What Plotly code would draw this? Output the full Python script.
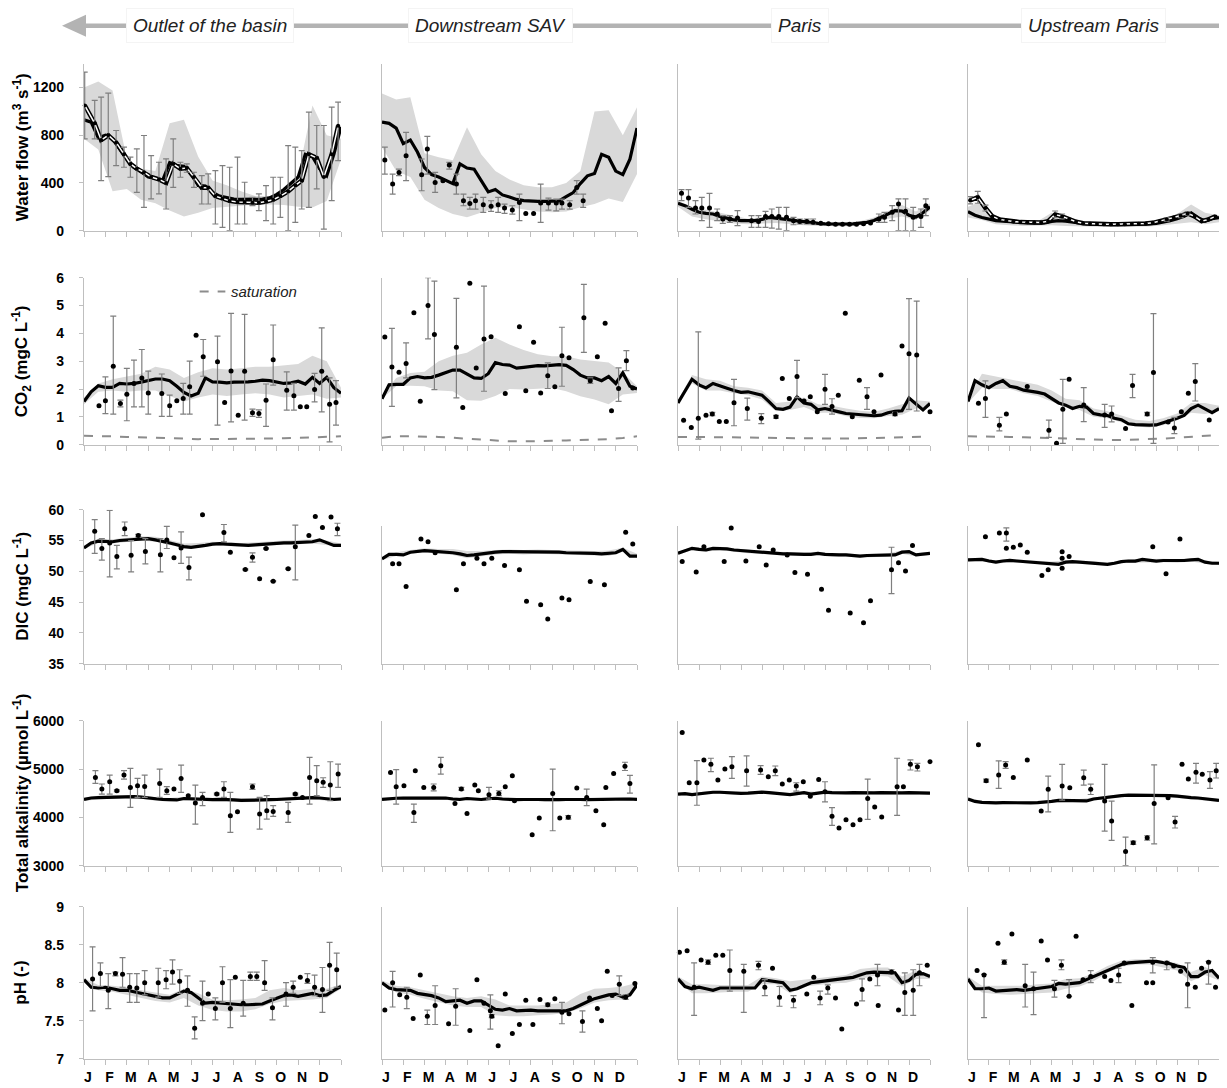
import plotly.graph_objects as go

# page placement: figure sits inside the body margin; measured window mapping is applied in px()/py()
W, H = 1211, 1088

# ---------------- shared axis data ----------------
X_LINE = list(range(1, 38))          # model time steps (10-day periods)
X_BAND = list(range(1, 38, 2))       # envelope sampling
X_TICKS = list(range(1, 38, 3))
MONTHS = ["J", "F", "M", "A", "M", "J", "J", "A", "S", "O", "N", "D"]
SITES = ["Outlet of the basin", "Downstream SAV", "Paris", "Upstream Paris"]
Y_TITLES = ["Water flow (m<sup>3</sup> s<sup>-1</sup>)",
            "CO<sub>2</sub> (mgC L<sup>-1</sup>)",
            "DIC (mgC L<sup>-1</sup>)",
            "Total alkalinity (µmol L<sup>-1</sup>)",
            "pH (-)"]
Y_RANGES = [[0, 1400], [0, 6], [35, 60], [3000, 6000], [7, 9]]
Y_TICKVALS = [[0, 400, 800, 1200], [0, 1, 2, 3, 4, 5, 6], [35, 40, 45, 50, 55, 60],
              [3000, 4000, 5000, 6000], [7, 7.5, 8, 8.5, 9]]
Y_TICKTEXT = [["0", "400", "800", "1200"], ["0", "1", "2", "3", "4", "5", "6"],
              ["35", "40", "45", "50", "55", "60"], ["3000", "4000", "5000", "6000"],
              ["7", "7.5", "8", "8.5", "9"]]

# ---------------- Row 1: water flow ----------------
q_out_model = [930, 910, 780, 800, 770, 680, 600, 530, 495, 450, 440, 420, 570, 545, 540, 480, 380, 375, 320, 290,
               275, 265, 262, 262, 262, 265, 275, 305, 345, 400, 450, 640, 620, 520, 460, 640, 870]
q_out_hi = [1200, 1250, 1175, 600, 520, 500, 900, 930, 620, 420, 380, 330, 290, 290, 330, 470, 1050, 800, 770]
q_out_lo = [770, 680, 330, 350, 260, 230, 170, 120, 150, 190, 200, 210, 220, 220, 215, 200, 195, 250, 600]
q_out_obs_x = [1.1, 2.5, 3.4, 4.4, 5.5, 6.6, 7.5, 8.4, 9.4, 10.4, 11.5, 12.5, 13.5, 14.5, 15.4, 16.4, 17.5, 18.4,
               19.4, 20.4, 21.4, 22.5, 23.5, 24.6, 25.5, 26.5, 27.5, 28.5, 29.6, 30.6, 31.5, 32.5, 33.6, 34.6, 35.7, 36.6]
q_out_obs_y = [1050, 900, 760, 800, 740, 640, 560, 520, 490, 450, 430, 400, 560, 520, 525, 450, 360, 360, 290, 270,
               250, 240, 240, 235, 235, 245, 260, 290, 330, 380, 420, 640, 610, 450, 640, 880]
q_out_obs_hi = [1330, 1092, 1120, 1153, 840, 700, 616, 686, 798, 630, 574, 602, 770, 574, 560, 490, 462, 476, 504,
                546, 532, 616, 406, 280, 308, 378, 448, 448, 714, 700, 672, 994, 882, 882, 1036, 1078]
q_out_obs_lo = [770, 770, 420, 454, 546, 532, 448, 322, 196, 266, 308, 182, 364, 448, 490, 364, 224, 224, 56, 28,
                0, 56, 56, 210, 168, 84, 56, 112, 0, 70, 182, 196, 350, 14, 252, 588]

q_sav_model = [910, 900, 860, 730, 760, 660, 530, 470, 450, 420, 395, 560, 525, 515, 420, 325, 345, 300, 282, 262,
               252, 246, 246, 246, 248, 250, 285, 320, 395, 460, 480, 640, 615, 500, 470, 600, 860]
q_sav_hi = [1150, 1100, 1119, 650, 615, 590, 867, 640, 500, 430, 380, 365, 365, 400, 500, 1000, 1010, 800, 1035]
q_sav_lo = [700, 500, 450, 260, 190, 140, 112, 150, 190, 196, 180, 160, 154, 160, 196, 224, 270, 240, 475]
q_sav_obs_x = [1.4, 2.5, 3.4, 4.4, 6.6, 7.4, 8.5, 9.6, 10.5, 11.5, 12.5, 13.4, 14.2, 15.3, 16.4, 17.4, 18.3, 19.4,
               20.4, 21.3, 22.4, 23.4, 24.5, 25.6, 26.4, 27.5, 28.5, 29.4]
q_sav_obs_y = [593, 391, 487, 629, 470, 685, 405, 419, 551, 391, 251, 229, 251, 218, 204, 218, 190, 173, 237, 145,
               145, 232, 232, 232, 232, 218, 363, 251]
q_sav_obs_hi = [700, 475, 517, 825, 601, 790, 489, None, 573, 475, 307, 279, 307, 279, 251, 279, 223, 209, 307, None,
                None, 391, 273, 265, 265, 251, 419, 307]
q_sav_obs_lo = [475, 307, 461, 419, 335, 475, 321, None, 517, 307, 209, 181, 181, 153, 162, 153, 146, 139, 84, None,
                None, 70, 173, 167, 181, 181, 307, 195]

q_par_model = [230, 210, 180, 155, 145, 140, 120, 105, 90, 85, 84, 84, 95, 112, 105, 98, 88, 80, 72, 68,
               62, 58, 56, 56, 56, 58, 62, 70, 85, 110, 140, 168, 165, 130, 115, 150, 200]
q_par_hi = [250, 200, 175, 150, 120, 100, 115, 120, 100, 85, 75, 70, 70, 80, 110, 165, 215, 160, 230]
q_par_lo = [200, 120, 95, 75, 60, 55, 60, 65, 55, 45, 40, 38, 38, 45, 70, 100, 120, 90, 170]
q_par_obs_x = [1.5, 2.5, 3.5, 4.4, 5.5, 6.6, 7.4, 8.4, 9.5, 11.5, 12.5, 13.5, 14.4, 15.4, 16.5, 17.5, 18.4, 19.4,
               20.3, 21.4, 22.5, 23.5, 24.5, 25.5, 26.5, 27.5, 28.5, 29.7, 30.5, 31.6, 32.5, 33.5, 34.6, 35.7, 36.4]
q_par_obs_y = [313, 274, 190, 190, 190, 140, 98, 98, 106, 84, 78, 118, 118, 118, 112, 84, 78, 78, 70, 62,
               58, 55, 55, 55, 55, 58, 65, 98, 112, 154, 224, 162, 112, 118, 210]
q_par_obs_hi = [345, 345, 252, 280, 313, 182, 126, 126, 168, 126, 126, 162, 182, 196, 196, 112, 98, 98, 98, None,
                None, None, None, None, None, None, None, 140, 154, 210, 266, 266, 196, 182, 266]
q_par_obs_lo = [252, 196, 140, 84, 28, 84, 62, 70, 42, 28, 28, 28, 22, 14, 0, 50, 56, 56, 56, None,
                None, None, None, None, None, None, None, 70, 70, 84, 0, 0, 0, 28, 126]

q_up_model = [160, 130, 110, 95, 85, 80, 75, 70, 68, 66, 64, 65, 78, 85, 80, 70, 60, 56, 55, 55,
              55, 55, 55, 55, 55, 56, 58, 62, 70, 84, 100, 120, 150, 110, 80, 100, 110]
q_up_hi = [200, 250, 110, 90, 85, 80, 150, 110, 80, 70, 70, 70, 72, 80, 100, 140, 220, 150, 130]
q_up_lo = [110, 90, 55, 45, 40, 40, 45, 40, 35, 32, 30, 30, 30, 35, 45, 55, 70, 55, 70]
q_up_obs_x = [1.3, 2.4, 3.5, 4.5, 5.5, 6.5, 7.5, 8.5, 9.5, 10.5, 11.5, 12.5, 13.5, 14.5, 15.5, 16.5, 17.5, 18.5,
              19.5, 20.5, 21.5, 22.5, 23.5, 24.5, 25.5, 26.5, 27.5, 28.5, 29.5, 30.5, 31.5, 32.5, 33.5, 34.5, 35.5, 36.5]
q_up_obs_y = [255, 280, 190, 120, 95, 85, 78, 72, 70, 68, 68, 80, 135, 120, 95, 75, 62, 58,
              56, 55, 55, 55, 55, 56, 58, 60, 66, 78, 95, 110, 125, 145, 120, 80, 95, 120]
q_up_obs_hi = [285, 330, 215, None, None, None, None, None, None, None, None, None, 165, 140, None, None, None, None,
               None, None, None, None, None, None, None, None, None, None, 110, None, 140, 160, None, None, None, None]
q_up_obs_lo = [225, 230, 165, None, None, None, None, None, None, None, None, None, 110, 100, None, None, None, None,
               None, None, None, None, None, None, None, None, None, None, 80, None, 110, 130, None, None, None, None]

# ---------------- Row 2: CO2 ----------------
co2_out_model = [1.55, 1.9, 2.12, 2.06, 2.06, 2.2, 2.18, 2.2, 2.25, 2.3, 2.36, 2.36, 2.3, 2.1, 1.88, 1.75, 1.85, 2.4,
                 2.26, 2.25, 2.22, 2.25, 2.25, 2.26, 2.28, 2.32, 2.3, 2.26, 2.2, 2.22, 2.28, 2.18, 2.42, 2.2, 2.42,
                 2.05, 1.85]
co2_out_hi = [1.7, 2.2, 2.35, 2.45, 2.55, 2.8, 2.7, 2.4, 2.6, 2.75, 2.7, 2.75, 2.8, 2.8, 2.85, 2.9, 3.2, 3.0, 2.05]
co2_out_lo = [1.45, 1.9, 1.95, 1.9, 1.95, 1.95, 1.75, 1.55, 1.7, 1.8, 1.75, 1.8, 1.85, 1.8, 1.7, 1.75, 1.8, 1.65, 1.7]
co2_out_sat = [0.32, 0.32, 0.3, 0.28, 0.27, 0.25, 0.24, 0.22, 0.2, 0.2, 0.2, 0.2, 0.21, 0.22, 0.23, 0.25, 0.27, 0.29, 0.3]
co2_out_obs_x = [3.1, 4.0, 5.1, 6.1, 7.0, 8.0, 9.1, 10.0, 11.9, 13.0, 14.0, 14.9, 15.8, 16.7, 17.7, 19.7, 20.7, 21.6,
                 22.6, 23.5, 24.6, 25.5, 26.5, 27.5, 29.4, 30.4, 31.3, 32.2, 33.3, 34.3, 35.4, 36.3]
co2_out_obs_y = [1.40, 1.58, 2.82, 1.48, 1.81, 2.2, 2.4, 1.86, 1.84, 1.4, 1.58, 1.66, 2.08, 3.93, 3.16, 2.98, 1.52,
                 2.65, 1.06, 2.64, 1.15, 1.12, 1.6, 3.05, 1.96, 1.76, 1.36, 1.36, 1.98, 2.64, 1.45, 1.52]
co2_out_obs_hi = [None, 2.44, 4.62, 1.6, 2.74, 3.04, 3.42, 2.64, 2.54, 1.78, None, 2.2, 3.0, None, 3.78, 3.9, None,
                  4.72, None, 4.68, 1.28, 1.25, 2.18, 4.3, 2.62, 2.2, None, None, 2.56, 4.2, 2.4, 2.3]
co2_out_obs_lo = [None, 1.12, 1.1, 1.36, 0.86, 1.36, 1.36, 1.1, 1.02, 1.02, None, 1.1, 1.1, None, 2.46, 0.7, None,
                  0.82, None, 0.88, 1.02, 0.98, 0.66, 2.14, 1.24, 1.24, None, None, 1.54, 1.18, 0.1, 0.7]

co2_sav_model = [1.65, 2.15, 2.17, 2.17, 2.4, 2.45, 2.4, 2.42, 2.5, 2.6, 2.68, 2.68, 2.55, 2.4, 2.38, 2.55, 2.95, 2.88,
                 2.86, 2.75, 2.78, 2.8, 2.84, 2.83, 2.85, 2.88, 2.85, 2.7, 2.5, 2.4, 2.4, 2.3, 2.45, 2.2, 2.58, 2.1, 2.0]
co2_sav_hi = [1.75, 2.4, 2.58, 2.62, 3.0, 3.2, 3.3, 3.6, 3.84, 3.6, 3.4, 3.25, 3.18, 3.18, 3.06, 3.0, 2.95, 2.6, 2.1]
co2_sav_lo = [1.65, 2.1, 2.12, 2.1, 1.95, 1.92, 1.6, 1.58, 1.75, 2.0, 1.98, 2.02, 2.04, 1.92, 1.74, 1.62, 1.45, 1.8, 1.86]
co2_sav_sat = [0.25, 0.3, 0.3, 0.3, 0.28, 0.25, 0.22, 0.2, 0.16, 0.12, 0.12, 0.14, 0.14, 0.15, 0.16, 0.18, 0.2, 0.24, 0.3]
co2_sav_obs_x = [1.4, 2.4, 3.4, 4.4, 5.5, 6.4, 7.5, 8.4, 11.5, 12.4, 13.4, 14.3, 15.4, 16.4, 18.4, 20.4, 21.3, 22.4,
                 23.4, 24.4, 25.4, 26.4, 27.4, 29.5, 30.4, 31.4, 32.5, 33.4, 34.4, 35.5, 36.4]
co2_sav_obs_y = [3.87, 2.79, 2.6, 2.92, 4.74, 1.56, 5.0, 3.96, 3.5, 1.34, 5.8, 2.76, 3.8, 3.88, 1.84, 4.24, 1.94, 3.68,
                 1.86, 2.48, 2.08, 3.2, 3.12, 4.56, 2.3, 3.16, 4.36, 1.22, 2.02, 3.02, 2.04]
co2_sav_obs_hi = [None, 4.18, None, 3.66, None, None, 6.0, 5.88, 5.26, None, None, None, 5.7, None, None, None, None,
                  None, None, 2.94, None, 4.22, None, 5.76, 2.4, None, None, None, 2.76, 3.38, None]
co2_sav_obs_lo = [None, 1.38, None, 2.4, None, None, 3.8, 1.98, 1.68, None, None, None, 1.92, None, None, None, None,
                  None, None, 2.02, None, 2.1, None, 3.32, 2.2, None, None, None, 1.56, 2.66, None]

co2_par_model = [1.5, 1.95, 2.35, 2.15, 2.04, 2.2, 2.1, 2.03, 1.95, 1.88, 1.9, 1.85, 1.78, 1.55, 1.3, 1.27, 1.35, 1.72,
                 1.5, 1.45, 1.25, 1.3, 1.25, 1.18, 1.12, 1.1, 1.06, 1.05, 1.04, 1.06, 1.15, 1.2, 1.22, 1.68, 1.45,
                 1.25, 1.48]
co2_par_hi = [1.6, 2.5, 2.35, 2.3, 2.1, 2.05, 1.95, 1.5, 1.55, 1.7, 1.45, 1.4, 1.3, 1.22, 1.18, 1.3, 1.45, 1.6, 1.55]
co2_par_lo = [1.45, 2.2, 1.95, 1.95, 1.85, 1.78, 1.62, 1.2, 1.25, 1.35, 1.15, 1.15, 1.02, 0.96, 0.95, 1.03, 1.08, 1.3, 1.4]
co2_par_sat = [0.28, 0.28, 0.27, 0.27, 0.26, 0.26, 0.25, 0.24, 0.23, 0.22, 0.22, 0.22, 0.22, 0.23, 0.24, 0.25, 0.27, 0.28, 0.29]
co2_par_obs_x = [1.8, 2.9, 3.9, 5.0, 5.9, 6.9, 7.9, 9.0, 10.9, 12.9, 15.0, 15.9, 16.9, 18.0, 19.0, 19.9, 20.9, 22.0,
                 23.0, 23.9, 24.9, 25.9, 26.9, 28.0, 29.0, 30.0, 32.0, 33.0, 34.0, 35.1, 37.0]
co2_par_obs_y = [0.88, 0.62, 0.95, 1.06, 1.1, 0.83, 0.83, 1.51, 1.3, 0.95, 1.0, 2.38, 1.66, 2.45, 1.57, 1.72, 1.18,
                 1.99, 1.37, 1.78, 4.72, 1.0, 2.32, 1.72, 1.18, 2.5, 1.1, 3.55, 3.27, 3.22, 1.18]
co2_par_obs_hi = [None, None, 4.05, None, 1.16, None, None, 2.35, 1.67, 1.12, 1.05, None, None, 3.03, None, None, None,
                  2.53, 1.65, None, None, None, None, 2.05, None, None, 1.16, None, 5.25, 5.16, None]
co2_par_obs_lo = [None, None, 0.2, None, 1.04, None, None, 0.68, 0.88, 0.76, 0.95, None, None, 1.69, None, None, None,
                  1.45, 1.1, None, None, None, None, 1.27, None, None, 1.04, None, 1.27, 1.21, None]

co2_up_model = [1.55, 2.3, 2.15, 2.05, 2.2, 2.3, 2.1, 2.05, 1.96, 1.93, 1.88, 1.82, 1.65, 1.5, 1.42, 1.3, 1.38, 1.35,
                1.12, 1.07, 1.05, 0.95, 0.9, 0.75, 0.72, 0.7, 0.7, 0.71, 0.78, 0.86, 0.95, 1.05, 1.3, 1.42, 1.3, 1.15, 1.3]
co2_up_hi = [1.65, 2.55, 2.45, 2.35, 2.25, 2.15, 1.95, 1.65, 1.6, 1.3, 1.2, 1.05, 0.9, 0.85, 0.95, 1.12, 1.5, 1.5, 1.4]
co2_up_lo = [1.5, 2.05, 2.0, 2.0, 1.85, 1.75, 1.55, 1.35, 1.25, 1.0, 0.95, 0.8, 0.65, 0.62, 0.7, 0.88, 1.15, 1.1, 1.2]
co2_up_sat = [0.3, 0.3, 0.29, 0.28, 0.27, 0.25, 0.23, 0.22, 0.2, 0.18, 0.17, 0.17, 0.18, 0.2, 0.22, 0.25, 0.28, 0.32, 0.35]
co2_up_obs_x = [2.5, 3.5, 5.5, 6.5, 9.5, 12.6, 13.7, 14.6, 15.5, 17.6, 20.6, 21.6, 23.6, 24.6, 26.7, 27.6, 29.7, 30.6,
                31.6, 32.6, 33.6, 35.6]
co2_up_obs_y = [1.49, 1.66, 0.7, 1.1, 2.09, 0.52, 0.05, 1.27, 2.35, 1.43, 1.07, 1.1, 0.58, 2.13, 1.1, 2.59, 0.82, 0.6,
                1.18, 1.85, 2.27, 0.89]
co2_up_obs_hi = [None, 2.29, 0.98, None, None, 0.88, None, 2.35, None, 2.05, 1.45, 1.39, None, 2.53, 1.16, 4.71, None,
                 0.98, None, None, 2.91, None]
co2_up_obs_lo = [None, 0.98, 0.5, None, None, 0.26, None, 0.05, None, 0.83, 0.62, 0.82, None, 1.69, 1.04, 0.05, None,
                 0.4, None, None, 1.57, None]

# ---------------- Row 3: DIC ----------------
dic_out_model = [53.8, 54.6, 54.9, 54.8, 54.8, 55.0, 55.1, 55.2, 55.3, 55.3, 55.1, 54.9, 54.6, 54.3, 54.0, 53.9, 54.0,
                 54.2, 54.4, 54.5, 54.4, 54.3, 54.2, 54.2, 54.3, 54.4, 54.5, 54.5, 54.6, 54.6, 54.7, 54.7, 54.8, 55.1,
                 54.6, 54.2, 54.2]
dic_out_hi = [54.2, 55.3, 55.2, 55.5, 55.7, 55.6, 55.0, 54.5, 54.6, 54.8, 54.7, 54.6, 54.7, 54.9, 55.0, 55.1, 55.2, 55.0, 54.5]
dic_out_lo = [53.6, 54.6, 54.5, 54.8, 55.0, 54.8, 54.3, 53.7, 53.8, 54.1, 54.1, 54.0, 54.1, 54.2, 54.3, 54.4, 54.5, 54.2, 54.0]
dic_out_obs_x = [2.5, 3.5, 4.6, 5.6, 6.7, 7.6, 8.6, 9.6, 11.7, 12.6, 13.6, 14.6, 15.7, 17.6, 20.6, 21.5, 23.6, 24.6,
                 25.6, 26.5, 27.5, 29.6, 30.6, 32.5, 33.4, 34.4, 35.6, 36.5]
dic_out_obs_y = [56.5, 53.7, 54.6, 52.4, 56.9, 52.6, 55.8, 53.2, 52.7, 55.1, 52.2, 53.8, 50.6, 59.2, 56.3, 53.1, 50.3,
                 52.3, 48.8, 53.7, 48.4, 50.4, 54.0, 55.8, 58.9, 57.1, 58.8, 56.9]
dic_out_obs_hi = [58.4, 55.3, 59.9, 54.2, 58.0, 55.0, 56.0, 55.3, 55.3, 57.3, None, 56.4, 52.3, None, 57.6, None, 50.4,
                  53.0, None, 53.8, 48.5, 50.5, 57.5, None, None, None, None, 57.8]
dic_out_obs_lo = [52.9, 51.8, 49.1, 50.4, 55.8, 49.9, 55.6, 51.2, 49.9, 53.7, None, 51.3, 48.6, None, 54.8, None, 50.2,
                  51.5, None, 53.6, 48.3, 50.3, 48.6, None, None, None, None, 55.8]

dic_sav_model = [54.0, 54.8, 54.8, 54.7, 55.2, 55.4, 55.5, 55.4, 55.3, 55.3, 55.1, 54.9, 54.6, 54.7, 54.9, 55.1, 55.2,
                 55.3, 55.3, 55.3, 55.2, 55.2, 55.3, 55.2, 55.2, 55.2, 55.1, 55.1, 55.1, 55.0, 55.0, 54.9, 55.0, 55.1,
                 55.7, 54.5, 54.5]
dic_sav_hi = [54.3, 55.2, 55.6, 55.9, 55.8, 55.8, 55.4, 55.4, 55.6, 55.7, 55.6, 55.7, 55.6, 55.5, 55.5, 55.4, 55.5, 56.0, 54.9]
dic_sav_lo = [53.8, 54.5, 54.9, 55.2, 55.0, 54.7, 54.1, 54.4, 54.8, 54.9, 54.8, 54.9, 54.8, 54.7, 54.7, 54.6, 54.5, 55.3, 54.2]
dic_sav_obs_x = [2.5, 3.4, 4.4, 6.5, 7.5, 8.5, 11.5, 12.5, 14.4, 15.4, 16.5, 18.3, 20.4, 21.4, 23.4, 24.4, 26.4, 27.4,
                 30.4, 32.4, 35.4, 36.4]
dic_sav_obs_y = [53.1, 53.1, 49.0, 57.6, 57.1, 55.1, 48.4, 53.1, 54.1, 53.1, 54.1, 52.8, 52.0, 46.3, 45.7, 43.1, 46.9,
                 46.6, 49.9, 49.3, 58.8, 56.7]

dic_par_model = [55.0, 55.5, 55.9, 55.7, 55.6, 55.9, 55.9, 55.8, 55.6, 55.5, 55.3, 55.2, 55.1, 55.0, 55.0, 54.9, 54.9,
                 54.8, 54.8, 54.8, 55.0, 54.8, 54.7, 54.7, 54.7, 54.6, 54.5, 54.6, 54.6, 54.7, 54.7, 54.7, 55.2, 55.3,
                 54.7, 54.9, 55.0]
dic_par_hi = [55.3, 56.2, 56.0, 56.2, 55.9, 55.6, 55.4, 55.3, 55.2, 55.2, 55.3, 55.0, 55.0, 54.8, 54.9, 55.0, 55.5, 55.0, 55.3]
dic_par_lo = [54.7, 55.6, 55.3, 55.6, 55.3, 55.0, 54.8, 54.7, 54.6, 54.5, 54.7, 54.4, 54.4, 54.2, 54.3, 54.4, 54.9, 54.4, 54.7]
dic_par_obs_x = [1.6, 3.6, 4.7, 7.6, 8.6, 10.7, 12.6, 13.6, 14.6, 16.6, 17.7, 19.5, 21.5, 22.5, 25.6, 27.5, 28.5, 31.5,
                 32.5, 33.5, 34.5]
dic_par_obs_y = [53.5, 51.6, 56.2, 53.5, 59.6, 53.6, 56.2, 52.9, 55.6, 54.7, 51.5, 51.2, 48.5, 44.7, 44.2, 42.4, 46.4,
                 52.0, 53.3, 51.8, 56.4]
dic_par_obs_hi = [None] * 17 + [56.1, None, None, None]
dic_par_obs_lo = [None] * 17 + [47.7, None, None, None]

dic_up_model = [53.8, 53.9, 53.9, 53.6, 53.4, 53.6, 53.7, 53.6, 53.5, 53.5, 53.4, 53.3, 53.2, 53.0, 53.4, 53.5, 53.4,
                53.3, 53.3, 53.2, 53.0, 53.2, 53.5, 53.6, 53.6, 53.9, 53.7, 53.6, 53.7, 53.7, 53.6, 53.7, 53.8, 53.9,
                53.4, 53.2, 53.2]
dic_up_hi = [54.1, 54.2, 53.7, 54.0, 53.8, 53.7, 53.5, 53.7, 53.7, 53.6, 53.3, 53.8, 53.9, 54.0, 54.0, 53.9, 54.1, 53.7, 53.5]
dic_up_lo = [53.5, 53.6, 53.1, 53.4, 53.2, 53.1, 52.9, 53.1, 53.1, 53.0, 52.7, 53.2, 53.3, 53.4, 53.4, 53.3, 53.5, 53.1, 52.9]
dic_up_obs_x = [3.5, 5.5, 6.5, 6.5, 7.5, 8.5, 9.5, 11.6, 12.5, 14.5, 14.5, 14.5, 15.5, 27.5, 29.4, 31.4]
dic_up_obs_y = [58.0, 58.7, 58.7, 55.9, 56.1, 56.5, 55.2, 51.0, 52.0, 55.3, 54.1, 52.3, 54.4, 56.2, 51.3, 57.6]
dic_up_obs_hi = [None, None, 59.6] + [None] * 13
dic_up_obs_lo = [None, None, 57.2] + [None] * 13

# ---------------- Row 4: total alkalinity ----------------
ta_out_model = [4370, 4400, 4410, 4415, 4420, 4425, 4430, 4430, 4420, 4400, 4380, 4370, 4365, 4360, 4390, 4380, 4370,
                4360, 4365, 4370, 4370, 4360, 4350, 4350, 4355, 4360, 4365, 4370, 4380, 4385, 4390, 4400, 4410, 4400,
                4380, 4370, 4380]
ta_out_hi = [4400, 4445, 4455, 4465, 4455, 4415, 4400, 4425, 4405, 4400, 4405, 4385, 4390, 4400, 4415, 4425, 4445, 4415, 4410]
ta_out_lo = [4340, 4375, 4385, 4395, 4385, 4345, 4330, 4355, 4335, 4330, 4335, 4315, 4320, 4330, 4345, 4355, 4375, 4345, 4350]
ta_out_obs_x = [2.6, 3.5, 4.6, 5.6, 6.6, 7.5, 8.5, 9.5, 11.6, 12.6, 13.6, 14.6, 15.6, 16.6, 17.6, 19.6, 20.6, 21.5,
                22.5, 24.6, 25.6, 26.6, 27.5, 29.6, 30.6, 31.6, 32.6, 33.6, 34.5, 35.5, 36.6]
ta_out_obs_y = [4827, 4586, 4737, 4551, 4875, 4620, 4655, 4641, 4703, 4551, 4586, 4806, 4448, 4296, 4413, 4482, 4586,
                4034, 4117, 4634, 4068, 4137, 4123, 4103, 4482, 4413, 4827, 4758, 4724, 4668, 4896]
ta_out_obs_hi = [4965, 4690, 4875, 4570, 4965, 5013, 4806, 4875, 5000, 4634, None, 5082, None, 4668, 4517, 4500, 4737,
                 4517, None, 4690, 4413, 4448, 4241, 4310, 4500, None, 5241, 5069, 4820, 5151, 5103]
ta_out_obs_lo = [4703, 4482, 4482, 4530, 4793, 4206, 4413, 4413, 4413, 4475, None, 4517, None, 3861, 4241, 4465, 4413,
                 3689, None, 4580, 3758, 3965, 4020, 3896, 4465, None, 4275, 4448, 4620, 4344, 4620]

ta_sav_model = [4370, 4390, 4395, 4400, 4400, 4405, 4410, 4415, 4405, 4400, 4380, 4370, 4390, 4380, 4370, 4385, 4395,
                4380, 4370, 4365, 4370, 4375, 4370, 4365, 4360, 4365, 4370, 4375, 4370, 4365, 4370, 4375, 4380, 4385,
                4390, 4380, 4370]
ta_sav_hi = [4400, 4425, 4430, 4440, 4435, 4410, 4420, 4400, 4425, 4400, 4400, 4400, 4390, 4400, 4400, 4400, 4410, 4420, 4400]
ta_sav_lo = [4340, 4365, 4370, 4380, 4375, 4350, 4360, 4340, 4365, 4340, 4340, 4340, 4330, 4340, 4340, 4340, 4350, 4360, 4340]
ta_sav_obs_x = [2.2, 3.0, 4.1, 5.5, 5.7, 6.9, 8.3, 9.3, 11.3, 12.2, 13.0, 14.1, 14.6, 16.1, 17.5, 18.4, 19.4, 19.7,
                22.2, 23.2, 25.1, 26.1, 27.3, 28.5, 29.9, 31.2, 32.3, 32.6, 33.7, 35.3, 36.0]
ta_sav_obs_y = [4930, 4634, 4655, 4103, 4965, 4620, 4620, 5069, 4289, 4586, 4082, 4668, 4551, 4468, 4496, 4634, 4862,
                4344, 3640, 3985, 4496, 3985, 4000, 4606, 4413, 4137, 3847, 4620, 4910, 5055, 4703]
ta_sav_obs_hi = [None, 4986, None, 4275, None, None, 4690, 5241, None, 4620, None, None, None, 4620, 4551, None, None,
                 None, None, None, 5000, None, 4035, None, 4586, None, None, None, None, 5140, 4870]
ta_sav_obs_lo = [None, 4275, None, 3896, None, None, 4550, 4896, None, 4565, None, None, None, 4379, 4448, None, None,
                 None, None, None, 3723, None, 3965, None, 4241, None, None, None, None, 4970, 4500]

ta_par_model = [4480, 4490, 4470, 4490, 4510, 4520, 4520, 4510, 4500, 4495, 4500, 4510, 4520, 4510, 4500, 4490, 4470,
                4490, 4510, 4480, 4500, 4520, 4510, 4500, 4505, 4510, 4505, 4500, 4505, 4510, 4505, 4500, 4505, 4510,
                4505, 4500, 4500]
ta_par_hi = [4510, 4500, 4540, 4550, 4530, 4530, 4550, 4530, 4500, 4540, 4530, 4540, 4535, 4535, 4535, 4535, 4535, 4535, 4530]
ta_par_lo = [4450, 4440, 4480, 4490, 4470, 4470, 4490, 4470, 4440, 4480, 4470, 4480, 4475, 4475, 4475, 4475, 4475, 4475, 4470]
ta_par_obs_x = [1.6, 2.6, 3.7, 4.7, 5.7, 6.7, 7.7, 8.7, 10.8, 12.8, 13.9, 14.9, 15.9, 16.9, 17.9, 18.9, 19.9, 21.1,
                22.0, 23.0, 24.0, 25.0, 26.0, 27.0, 28.1, 29.1, 30.1, 32.3, 33.2, 34.2, 35.2, 37.0]
ta_par_obs_y = [5757, 4716, 4716, 5188, 5098, 4772, 5000, 5049, 4966, 4980, 4841, 4966, 4688, 4772, 4647, 4737, 4438,
                4785, 4529, 4022, 3779, 3953, 3849, 3953, 4390, 4216, 4008, 4633, 4633, 5098, 5049, 5153]
ta_par_obs_hi = [None, None, 5174, None, 5223, None, None, 5257, 5271, 5070, None, 5063, None, None, 4716, None, None,
                 None, 4737, 4202, None, None, None, None, 4792, None, None, 5223, None, 5188, 5118, None]
ta_par_obs_lo = [None, None, 4251, None, 4945, None, None, 4806, 4647, 4890, None, 4862, None, None, 4543, None, None,
                 None, 4320, 3835, None, None, None, None, 3960, None, None, 4043, None, 4980, 4959, None]

ta_up_model = [4380, 4330, 4310, 4300, 4300, 4305, 4300, 4300, 4300, 4300, 4305, 4310, 4330, 4350, 4350, 4355, 4350,
               4340, 4380, 4400, 4420, 4435, 4450, 4460, 4460, 4460, 4465, 4460, 4455, 4450, 4440, 4420, 4410, 4400,
               4380, 4360, 4350]
ta_up_hi = [4410, 4340, 4330, 4330, 4330, 4335, 4360, 4380, 4380, 4410, 4450, 4480, 4490, 4495, 4485, 4470, 4440, 4410, 4380]
ta_up_lo = [4350, 4280, 4270, 4270, 4270, 4275, 4300, 4320, 4320, 4350, 4390, 4420, 4430, 4435, 4425, 4410, 4380, 4350, 4320]
ta_up_obs_x = [2.5, 3.6, 5.4, 6.4, 7.5, 9.5, 11.5, 12.5, 14.5, 15.6, 17.6, 18.6, 20.6, 21.6, 23.6, 24.7, 26.7, 27.7,
               29.7, 30.7, 31.7, 32.6, 33.7, 34.6, 35.7, 36.6]
ta_up_obs_y = [5500, 4758, 4876, 5084, 4827, 5188, 4133, 4584, 4647, 4612, 4820, 4584, 4341, 3925, 3293, 3474, 3578,
               4286, 4404, 3904, 5098, 4792, 4931, 4890, 4772, 4966]
ta_up_obs_hi = [None, 4790, 5167, 5153, None, None, None, 4855, 5098, None, 4979, 4688, 5098, 4334, 3592, 3510, 3620,
                5084, None, 4020, None, None, 5117, None, 4945, 5118]
ta_up_obs_lo = [None, 4730, 4598, 5015, None, None, None, 4112, 4355, None, 4668, 4473, 3717, 3522, 3000, 3440, 3530,
                3453, None, 3780, None, None, 4710, None, 4599, 4814]

# ---------------- Row 5: pH ----------------
ph_out_model = [8.04, 7.94, 7.93, 7.94, 7.92, 7.9, 7.9, 7.88, 7.86, 7.84, 7.82, 7.8, 7.8, 7.85, 7.89, 7.87, 7.8, 7.73,
                7.74, 7.73, 7.72, 7.71, 7.71, 7.71, 7.71, 7.72, 7.76, 7.8, 7.83, 7.84, 7.82, 7.84, 7.86, 7.83, 7.84,
                7.9, 7.95]
ph_out_hi = [8.06, 7.97, 7.96, 7.94, 7.9, 7.87, 7.84, 7.92, 7.86, 7.78, 7.77, 7.78, 7.8, 7.9, 7.93, 7.9, 7.92, 7.92, 7.98]
ph_out_lo = [8.0, 7.9, 7.88, 7.85, 7.8, 7.76, 7.74, 7.8, 7.7, 7.64, 7.62, 7.62, 7.65, 7.72, 7.76, 7.77, 7.78, 7.8, 7.92]
ph_out_obs_x = [2.2, 3.3, 4.4, 5.4, 6.4, 7.4, 8.4, 9.5, 11.4, 12.5, 13.4, 14.4, 15.5, 16.5, 17.6, 18.4, 19.4, 20.4,
                21.5, 22.2, 23.3, 24.3, 25.2, 26.3, 27.4, 29.3, 30.3, 31.3, 32.3, 33.3, 34.4, 35.4, 36.4]
ph_out_obs_y = [8.05, 8.12, 7.9, 8.12, 8.11, 7.94, 7.93, 8.0, 8.0, 8.04, 8.14, 8.02, 7.9, 7.4, 7.73, 7.85, 7.66, 8.0,
                7.66, 8.07, 7.73, 8.08, 8.08, 8.0, 7.67, 7.85, 7.94, 8.07, 8.03, 7.94, 7.91, 8.23, 8.17]
ph_out_obs_hi = [8.47, 8.26, 8.12, 8.14, 8.33, 8.12, 8.12, 8.16, 8.19, 8.16, 8.3, 8.17, 8.09, 7.55, 8.02, None, 7.8,
                 8.21, 8.04, None, 8.03, 8.14, 8.14, 8.29, 7.8, 8.0, 8.02, None, 8.12, 8.1, 8.2, 8.53, 8.39]
ph_out_obs_lo = [7.63, 7.95, 7.66, 8.09, 7.94, 7.74, 7.74, 7.84, 7.81, 7.92, 7.98, 7.86, 7.69, 7.26, 7.5, None, 7.51,
                 7.74, 7.41, None, 7.56, 8.03, 8.03, 7.9, 7.51, 7.69, 7.86, None, 7.99, 7.83, 7.61, 7.9, 7.94]

ph_sav_model = [8.0, 7.93, 7.91, 7.91, 7.9, 7.86, 7.85, 7.83, 7.8, 7.75, 7.76, 7.77, 7.73, 7.76, 7.76, 7.71, 7.65, 7.64,
                7.66, 7.63, 7.64, 7.64, 7.63, 7.63, 7.63, 7.63, 7.63, 7.66, 7.71, 7.75, 7.79, 7.82, 7.84, 7.85, 7.81,
                7.84, 7.97]
ph_sav_hi = [8.03, 7.96, 7.94, 7.9, 7.86, 7.82, 7.8, 7.82, 7.78, 7.7, 7.7, 7.7, 7.72, 7.74, 7.85, 7.92, 7.93, 7.95, 8.0]
ph_sav_lo = [7.98, 7.87, 7.84, 7.79, 7.74, 7.7, 7.68, 7.68, 7.57, 7.56, 7.56, 7.57, 7.58, 7.6, 7.66, 7.74, 7.77, 7.78, 7.93]
ph_sav_obs_x = [1.4, 2.5, 3.5, 4.5, 5.4, 6.4, 7.4, 8.5, 10.4, 11.4, 13.4, 14.4, 15.4, 16.3, 16.5, 17.4, 18.4, 19.4,
                20.4, 21.3, 22.3, 23.3, 24.4, 25.4, 26.4, 27.4, 29.3, 30.3, 31.4, 32.0, 32.8, 33.5, 34.5, 35.4, 36.7]
ph_sav_obs_y = [7.64, 8.0, 7.84, 7.81, 7.53, 8.1, 7.56, 7.7, 7.46, 7.69, 7.37, 8.04, 7.73, 7.63, 7.56, 7.17, 7.85, 7.33,
                7.45, 7.77, 7.45, 7.78, 7.71, 7.79, 7.61, 7.59, 7.49, 7.8, 7.66, 7.5, 8.15, 7.83, 7.98, 7.81, 7.99]
ph_sav_obs_hi = [None, 8.15, None, 7.94, None, None, 7.64, 7.96, None, 7.92, None, None, None, 7.84, 7.58, None, None,
                 None, None, None, None, None, 7.73, None, 7.74, None, 7.63, None, None, None, None, None, 8.09, 7.84,
                 None]
ph_sav_obs_lo = [None, 7.68, None, 7.66, None, None, 7.45, 7.45, None, 7.44, None, None, None, 7.39, 7.54, None, None,
                 None, None, None, None, None, 7.69, None, 7.46, None, 7.35, None, None, None, None, None, 7.83, 7.78,
                 None]

ph_par_model = [8.05, 7.95, 7.92, 7.94, 7.92, 7.9, 7.93, 7.93, 7.93, 7.93, 7.92, 7.93, 8.04, 8.03, 8.02, 8.0, 7.9, 7.92,
                7.96, 8.0, 8.01, 8.02, 8.03, 8.04, 8.05, 8.07, 8.1, 8.13, 8.14, 8.14, 8.14, 8.13, 8.0, 8.03, 8.11,
                8.12, 8.08]
ph_par_hi = [8.08, 7.98, 7.98, 7.97, 7.97, 7.97, 8.08, 8.06, 8.02, 8.04, 8.06, 8.08, 8.1, 8.18, 8.2, 8.2, 8.08, 8.16, 8.11]
ph_par_lo = [8.02, 7.86, 7.86, 7.87, 7.88, 7.88, 7.98, 7.98, 7.86, 7.95, 7.97, 7.99, 8.0, 8.05, 8.09, 8.08, 7.95, 8.05, 8.05]
ph_par_obs_x = [1.2, 2.3, 3.3, 4.3, 5.3, 6.4, 7.4, 8.4, 10.4, 12.5, 13.4, 14.5, 15.5, 17.5, 19.4, 20.4, 21.3, 22.4,
                23.5, 24.4, 26.5, 27.3, 28.4, 29.6, 29.5, 31.5, 32.5, 33.4, 34.6, 35.5, 36.6]
ph_par_obs_y = [8.4, 8.42, 7.94, 8.3, 8.27, 8.36, 8.36, 8.16, 8.15, 8.23, 7.94, 8.19, 7.81, 7.77, 7.85, 8.07, 7.8, 7.93,
                7.8, 7.39, 7.72, 7.91, 8.05, 7.7, 8.1, 8.14, 7.64, 7.87, 7.9, 8.13, 8.23]
ph_par_obs_hi = [None, None, 8.26, None, 8.3, None, None, 8.43, 8.24, 8.28, 8.04, None, 7.95, 7.83, None, None, 7.89,
                 7.97, None, None, None, 8.05, None, None, 8.24, 8.17, None, 8.13, 8.17, 8.24, None]
ph_par_obs_lo = [None, None, 7.57, None, 8.24, None, None, 7.89, 7.61, 8.17, 7.83, None, 7.69, 7.67, None, None, 7.71,
                 7.85, None, None, None, 7.76, None, None, 7.96, 8.11, None, 7.57, 7.57, 7.96, None]

ph_up_model = [8.05, 7.92, 7.92, 7.93, 7.89, 7.9, 7.91, 7.91, 7.9, 7.91, 7.93, 7.94, 7.95, 7.99, 7.98, 7.99, 8.0, 8.04,
               8.08, 8.13, 8.17, 8.2, 8.24, 8.26, 8.27, 8.28, 8.28, 8.28, 8.27, 8.25, 8.22, 8.2, 8.08, 8.08, 8.14,
               8.16, 8.06]
ph_up_hi = [8.08, 7.96, 7.96, 7.96, 7.96, 7.98, 7.99, 8.05, 8.06, 8.12, 8.22, 8.29, 8.31, 8.31, 8.28, 8.26, 8.14, 8.21, 8.1]
ph_up_lo = [8.02, 7.87, 7.85, 7.84, 7.85, 7.86, 7.87, 7.92, 7.95, 8.02, 8.13, 8.21, 8.24, 8.24, 8.2, 8.16, 8.02, 8.1, 8.03]
ph_up_obs_x = [2.3, 3.3, 5.3, 6.2, 7.3, 9.2, 10.4, 11.5, 12.4, 13.4, 14.4, 15.5, 16.5, 17.5, 18.6, 20.6, 21.5, 22.6,
               23.4, 24.5, 26.6, 27.5, 27.5, 29.5, 30.5, 31.5, 32.5, 33.6, 34.5, 35.5, 36.5]
ph_up_obs_y = [8.16, 8.1, 8.52, 8.27, 8.64, 7.96, 7.92, 8.55, 8.3, 7.92, 8.23, 7.82, 8.61, 8.04, 8.08, 8.08, 8.03, 8.1,
               8.26, 7.7, 8.0, 8.0, 8.27, 8.26, 8.22, 8.15, 7.98, 7.94, 8.19, 8.27, 7.94]
ph_up_obs_hi = [None, 8.11, None, 8.3, None, 8.24, 8.14, None, None, 8.03, 8.3, 8.04, None, None, 8.16, None, None,
                8.19, None, None, None, None, 8.33, 8.28, None, None, 8.26, None, None, 8.28, None]
ph_up_obs_lo = [None, 7.54, None, 8.24, None, 7.68, 7.58, None, None, 7.81, 8.17, 7.82, None, None, 8.0, None, None,
                8.0, None, None, None, None, 8.13, 8.17, None, None, 7.67, None, None, 7.98, None]

# ---------------- panel table built from the arrays above ----------------
PANELS = [
    [dict(m=q_out_model, hi=q_out_hi, lo=q_out_lo, ox=q_out_obs_x, oy=q_out_obs_y, oh=q_out_obs_hi, ol=q_out_obs_lo, hollow=True),
     dict(m=q_sav_model, hi=q_sav_hi, lo=q_sav_lo, ox=q_sav_obs_x, oy=q_sav_obs_y, oh=q_sav_obs_hi, ol=q_sav_obs_lo),
     dict(m=q_par_model, hi=q_par_hi, lo=q_par_lo, ox=q_par_obs_x, oy=q_par_obs_y, oh=q_par_obs_hi, ol=q_par_obs_lo),
     dict(m=q_up_model, hi=q_up_hi, lo=q_up_lo, ox=q_up_obs_x, oy=q_up_obs_y, oh=q_up_obs_hi, ol=q_up_obs_lo, hollow=True)],
    [dict(m=co2_out_model, hi=co2_out_hi, lo=co2_out_lo, sat=co2_out_sat, ox=co2_out_obs_x, oy=co2_out_obs_y, oh=co2_out_obs_hi, ol=co2_out_obs_lo),
     dict(m=co2_sav_model, hi=co2_sav_hi, lo=co2_sav_lo, sat=co2_sav_sat, ox=co2_sav_obs_x, oy=co2_sav_obs_y, oh=co2_sav_obs_hi, ol=co2_sav_obs_lo),
     dict(m=co2_par_model, hi=co2_par_hi, lo=co2_par_lo, sat=co2_par_sat, ox=co2_par_obs_x, oy=co2_par_obs_y, oh=co2_par_obs_hi, ol=co2_par_obs_lo),
     dict(m=co2_up_model, hi=co2_up_hi, lo=co2_up_lo, sat=co2_up_sat, ox=co2_up_obs_x, oy=co2_up_obs_y, oh=co2_up_obs_hi, ol=co2_up_obs_lo)],
    [dict(m=dic_out_model, hi=dic_out_hi, lo=dic_out_lo, ox=dic_out_obs_x, oy=dic_out_obs_y, oh=dic_out_obs_hi, ol=dic_out_obs_lo),
     dict(m=dic_sav_model, hi=dic_sav_hi, lo=dic_sav_lo, ox=dic_sav_obs_x, oy=dic_sav_obs_y),
     dict(m=dic_par_model, hi=dic_par_hi, lo=dic_par_lo, ox=dic_par_obs_x, oy=dic_par_obs_y, oh=dic_par_obs_hi, ol=dic_par_obs_lo),
     dict(m=dic_up_model, hi=dic_up_hi, lo=dic_up_lo, ox=dic_up_obs_x, oy=dic_up_obs_y, oh=dic_up_obs_hi, ol=dic_up_obs_lo)],
    [dict(m=ta_out_model, hi=ta_out_hi, lo=ta_out_lo, ox=ta_out_obs_x, oy=ta_out_obs_y, oh=ta_out_obs_hi, ol=ta_out_obs_lo),
     dict(m=ta_sav_model, hi=ta_sav_hi, lo=ta_sav_lo, ox=ta_sav_obs_x, oy=ta_sav_obs_y, oh=ta_sav_obs_hi, ol=ta_sav_obs_lo),
     dict(m=ta_par_model, hi=ta_par_hi, lo=ta_par_lo, ox=ta_par_obs_x, oy=ta_par_obs_y, oh=ta_par_obs_hi, ol=ta_par_obs_lo),
     dict(m=ta_up_model, hi=ta_up_hi, lo=ta_up_lo, ox=ta_up_obs_x, oy=ta_up_obs_y, oh=ta_up_obs_hi, ol=ta_up_obs_lo)],
    [dict(m=ph_out_model, hi=ph_out_hi, lo=ph_out_lo, ox=ph_out_obs_x, oy=ph_out_obs_y, oh=ph_out_obs_hi, ol=ph_out_obs_lo),
     dict(m=ph_sav_model, hi=ph_sav_hi, lo=ph_sav_lo, ox=ph_sav_obs_x, oy=ph_sav_obs_y, oh=ph_sav_obs_hi, ol=ph_sav_obs_lo),
     dict(m=ph_par_model, hi=ph_par_hi, lo=ph_par_lo, ox=ph_par_obs_x, oy=ph_par_obs_y, oh=ph_par_obs_hi, ol=ph_par_obs_lo),
     dict(m=ph_up_model, hi=ph_up_hi, lo=ph_up_lo, ox=ph_up_obs_x, oy=ph_up_obs_y, oh=ph_up_obs_hi, ol=ph_up_obs_lo)],
]

# ---------------- layout geometry (target window pixels) ----------------
COLS_PX = [(84, 341), (382, 637), (678, 930), (968, 1219)]
ROWS_PX = [(63, 230), (277, 444), (509, 663), (720, 865), (906, 1058)]
ROW3_TOP_OTHER = 525


def px(v):
    return (v - 8) / W


def py(v):
    return 1 - ((v - 15.3) / 0.9853) / H


FONT = "Liberation Sans, Arial, sans-serif"
AXC = "#bfbfbf"
BAND = "#d9d9d9"
ERRC = "#7f7f7f"

fig = go.Figure()
layout = dict(width=W, height=H, margin=dict(l=0, r=0, t=0, b=0),
              paper_bgcolor="white", plot_bgcolor="white", showlegend=False,
              font=dict(family=FONT, color="black"))

for r in range(5):
    for c in range(4):
        i = r * 4 + c + 1
        xs = "" if i == 1 else str(i)
        xref, yref = "x" + xs, "y" + xs
        P = PANELS[r][c]

        # envelope
        fig.add_trace(go.Scatter(x=X_BAND + X_BAND[::-1], y=P["hi"] + P["lo"][::-1], fill="toself",
                                 fillcolor=BAND, line=dict(width=0), mode="lines", hoverinfo="skip",
                                 xaxis=xref, yaxis=yref))
        # saturation
        if "sat" in P:
            fig.add_trace(go.Scatter(x=X_BAND, y=P["sat"], mode="lines",
                                     line=dict(color="#8c8c8c", width=2, dash="dash"),
                                     xaxis=xref, yaxis=yref))
        # model line
        fig.add_trace(go.Scatter(x=X_LINE, y=P["m"], mode="lines", line=dict(color="black", width=3.2),
                                 xaxis=xref, yaxis=yref))
        # observations
        ox, oy = P["ox"], P["oy"]
        oh = P.get("oh", [None] * len(ox))
        ol = P.get("ol", [None] * len(ox))
        ex, ey, ep, em, nx, ny = [], [], [], [], [], []
        for a, b, h, l in zip(ox, oy, oh, ol):
            if h is None:
                nx.append(a); ny.append(b)
            else:
                ex.append(a); ey.append(b); ep.append(h - b); em.append(b - l)
        if P.get("hollow"):
            fig.add_trace(go.Scatter(x=ox, y=oy, mode="lines", line=dict(color="black", width=4.5),
                                     xaxis=xref, yaxis=yref))
            fig.add_trace(go.Scatter(x=ox, y=oy, mode="lines", line=dict(color="white", width=1.5),
                                     xaxis=xref, yaxis=yref))
        msize = 4 if P.get("hollow") else 5
        if ex:
            fig.add_trace(go.Scatter(x=ex, y=ey, mode="markers", marker=dict(color="black", size=msize),
                                     error_y=dict(type="data", symmetric=False, array=ep, arrayminus=em,
                                                  color=ERRC, thickness=1.2, width=3),
                                     cliponaxis=False, xaxis=xref, yaxis=yref))
        if nx:
            fig.add_trace(go.Scatter(x=nx, y=ny, mode="markers", marker=dict(color="black", size=msize),
                                     cliponaxis=False, xaxis=xref, yaxis=yref))

        x0, x1 = COLS_PX[c]
        y0, y1 = ROWS_PX[r]
        if r == 2 and c > 0:
            y0 = ROW3_TOP_OTHER
        layout["xaxis" + xs] = dict(
            domain=[px(x0), px(x1)], range=[1, 37], anchor=yref,
            tickmode="array", tickvals=X_TICKS[:-1], ticktext=MONTHS,
            ticks="outside", ticklen=5, tickcolor=AXC, tickwidth=1,
            minor=dict(tickmode="array", tickvals=X_TICKS[-1:], ticks="outside", ticklen=5,
                       tickcolor=AXC, tickwidth=1, showgrid=False),
            showline=True, linecolor=AXC, linewidth=1.3, showgrid=False, zeroline=False,
            showticklabels=(r == 4), ticklabelshift=4,
            tickfont=dict(family=FONT, size=14, color="black", weight="bold"))
        layout["yaxis" + xs] = dict(
            domain=[py(y1), py(y0)], range=Y_RANGES[r], anchor=xref,
            tickmode="array", tickvals=Y_TICKVALS[r], ticktext=Y_TICKTEXT[r],
            ticks="outside" if c == 0 else "", ticklen=4, tickcolor=AXC,
            showline=True, linecolor=AXC, linewidth=1.3, showgrid=False, zeroline=False,
            showticklabels=(c == 0), ticklabelstandoff=12,
            tickfont=dict(family=FONT, size=14, color="black", weight="bold"))

annotations = []
shapes = []
# y-axis titles
for r in range(5):
    y0, y1 = ROWS_PX[r]
    annotations.append(dict(x=px(21), y=py((y0 + y1) / 2), xref="paper", yref="paper",
                            xanchor="center", yanchor="middle",
                            text="<b>" + Y_TITLES[r] + "</b>", textangle=-90, showarrow=False,
                            font=dict(family=FONT, size=17, color="black")))

# header river line with arrow head
HY = py(25)
shapes.append(dict(type="line", xref="paper", yref="paper", x0=px(80), x1=1.0, y0=HY, y1=HY,
                   line=dict(color="#b3b3b3", width=4.5)))
shapes.append(dict(type="path", xref="paper", yref="paper",
                   path="M {:.5f},{:.5f} L {:.5f},{:.5f} L {:.5f},{:.5f} Z".format(
                       px(62), py(25), px(86), py(14), px(86), py(36)),
                   fillcolor="#b3b3b3", line=dict(width=0)))
for name, cx in zip(SITES, [210, 490, 800, 1093]):
    annotations.append(dict(x=px(cx), y=HY, xref="paper", yref="paper", text="<i>" + name + "</i>",
                            xanchor="center", yanchor="middle",
                            showarrow=False, bgcolor="white", borderpad=6,
                            bordercolor="#f4f4f4", borderwidth=1,
                            font=dict(family=FONT, size=19, color="#222222")))

# saturation key in CO2 / outlet panel
shapes.append(dict(type="line", xref="x5 domain", yref="y5", x0=0.45, x1=0.55, y0=5.5, y1=5.5,
                   line=dict(color="#8c8c8c", width=2, dash="dash")))
annotations.append(dict(x=0.565, y=5.5, xref="x5 domain", yref="y5", text="<i>saturation</i>",
                        xanchor="left", yanchor="middle", showarrow=False,
                        font=dict(family=FONT, size=15, color="#222222")))

layout["annotations"] = annotations
layout["shapes"] = shapes
fig.update_layout(**layout)
fig.write_html("out.html")
